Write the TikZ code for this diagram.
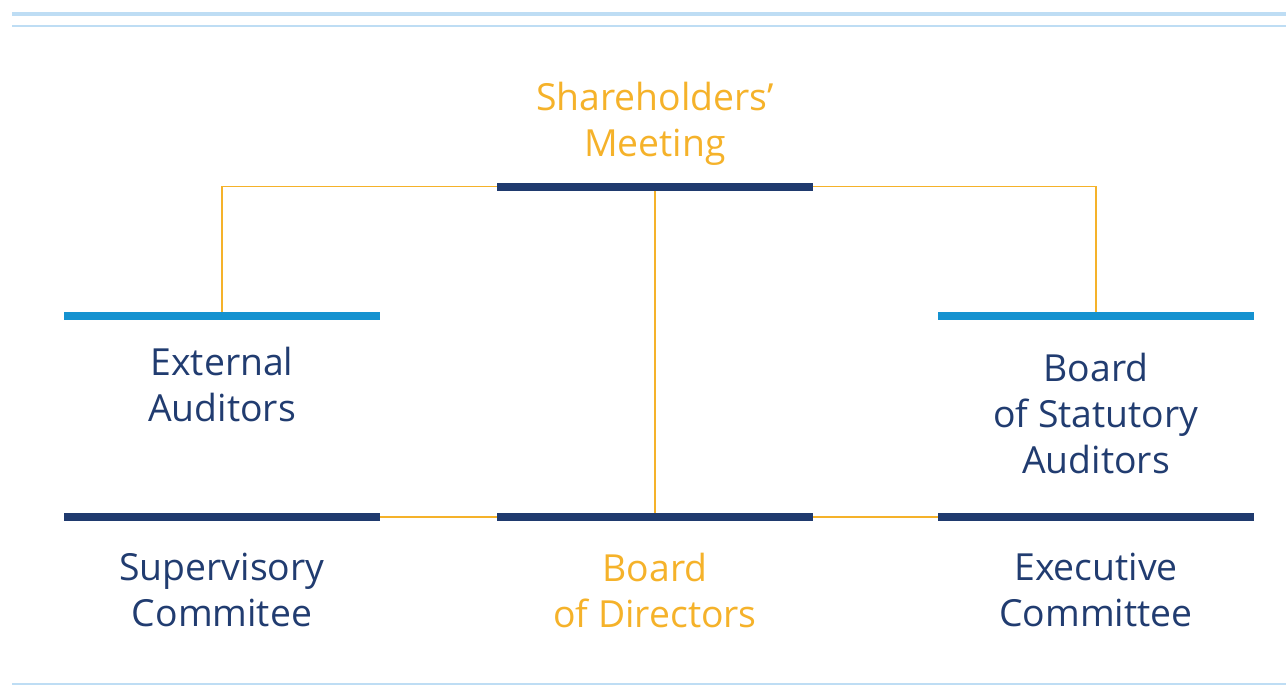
\documentclass[tikz,border=0pt]{standalone}
\usepackage{fontspec}
\setmainfont{Open Sans}
\usepackage{tikz}

\definecolor{barNavy}{RGB}{31,58,110}
\definecolor{barBlue}{RGB}{21,146,208}
\definecolor{linkOrange}{RGB}{245,178,42}
\definecolor{textNavy}{RGB}{33,60,112}
\definecolor{ruleBlue}{RGB}{190,221,244}

\begin{document}
\begin{tikzpicture}[x=0.75pt,y=0.75pt,yscale=-1,xscale=1,
		bar/.style={draw=none, inner sep=0pt, minimum width=237pt, minimum height=6pt},
		lbl/.style={align=center, inner sep=0pt, font=\fontsize{28}{34.5}\selectfont, text=textNavy},
		link/.style={color=linkOrange, line width=0.9pt}]
		\useasboundingbox (0,0) rectangle (1286,692);
		
		%Straight Lines [page rules]
		\draw [color=ruleBlue, line width=3pt] (12,14) -- (1286,14) ;
		\draw [color=ruleBlue, line width=1.1pt] (12,26) -- (1286,26) ;
		\draw [color=ruleBlue, line width=1.1pt] (12,684) -- (1286,684) ;
		
		%Shape: Bars
		\node (smbar) [bar, fill=barNavy] at (655,186.5) {};
		\node (eabar) [bar, fill=barBlue] at (222,316) {};
		\node (sabar) [bar, fill=barBlue] at (1096,316) {};
		\node (scbar) [bar, fill=barNavy] at (222,517) {};
		\node (bdbar) [bar, fill=barNavy] at (655,517) {};
		\node (ecbar) [bar, fill=barNavy] at (1096,517) {};
		
		% Text Node
		\node (sm) [lbl, text=linkOrange] at (655,124) {Shareholders’\\Meeting};
		\node (ea) [lbl] at (222,384) {External\\Auditors};
		\node (sa) [lbl] at (1096,413) {Board\\of Statutory\\Auditors};
		\node (sc) [lbl] at (222,590) {Supervisory\\Commitee};
		\node (bd) [lbl, text=linkOrange] at (655,590) {Board\\of Directors};
		\node (ec) [lbl] at (1096,590) {Executive\\Committee};
		
		%Straight Lines [links]
		\draw [link] (smbar.west) -| (eabar.north) ;
		\draw [link] (smbar.east) -| (sabar.north) ;
		\draw [link] (smbar.south) -- (bdbar.north) ;
		\draw [link] (scbar.east) -- (bdbar.west) ;
		\draw [link] (bdbar.east) -- (ecbar.west) ;
	\end{tikzpicture}
\end{document}
